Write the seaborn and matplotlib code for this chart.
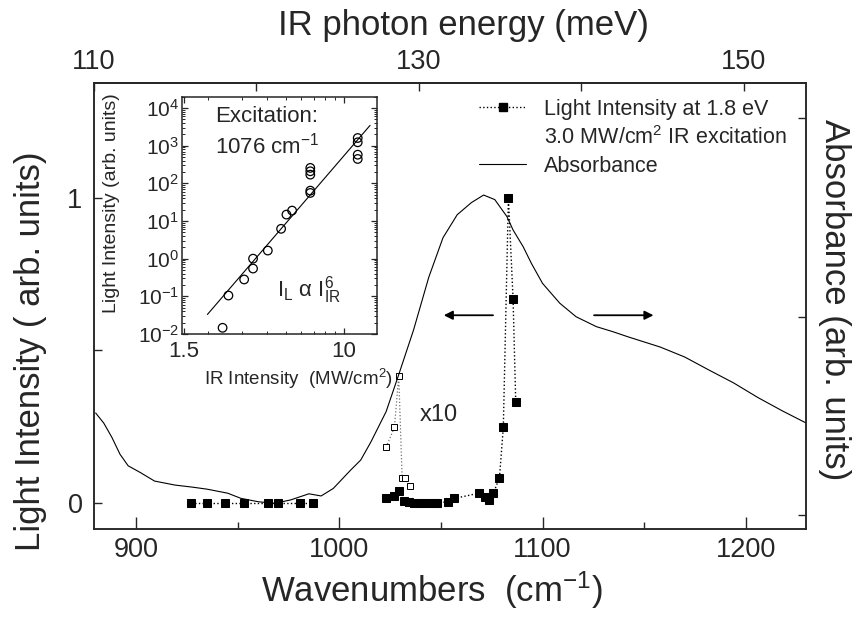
import numpy as np
import pandas as pd
import seaborn as sns
import matplotlib.pyplot as plt
from matplotlib.lines import Line2D
from matplotlib.ticker import FixedLocator, LogLocator, NullFormatter

# absorbance spectrum (right axis, arb. units)
abs_wn = [880, 884, 888, 892, 896, 902, 909, 919, 928, 935, 945, 951.5, 960, 968,
          976, 985, 991, 997, 1005.5, 1010.5, 1015.5, 1023, 1029, 1036.5, 1044, 1051,
          1058, 1065, 1071, 1076.5, 1082.5, 1085.5, 1090.5, 1094.5, 1100, 1108.5,
          1116.5, 1126.5, 1134.5, 1142, 1158, 1170, 1182, 1194, 1206, 1218, 1229.5]
abs_val = [0.514, 0.463, 0.391, 0.306, 0.248, 0.214, 0.171, 0.151, 0.140, 0.130, 0.110,
           0.084, 0.067, 0.059, 0.076, 0.107, 0.096, 0.134, 0.226, 0.277, 0.368, 0.521,
           0.701, 0.932, 1.198, 1.397, 1.513, 1.574, 1.612, 1.589, 1.503, 1.436, 1.351,
           1.268, 1.167, 1.067, 0.999, 0.949, 0.924, 0.898, 0.846, 0.796, 0.730, 0.666,
           0.592, 0.525, 0.465]

# light intensity at 1.8 eV (left axis)
low_wn = [926.7, 934.8, 943.9, 952.9, 964.7, 969.6, 980.7, 986.8]
low_val = [0.0, 0.0, 0.0, 0.0, 0.0, 0.0, 0.0, 0.0]
high_wn = [1022.7, 1026.8, 1029.2, 1031.7, 1034.2, 1036.6, 1039.1, 1041.5, 1044.0, 1046.4,
           1048.1, 1053.3, 1056.5, 1068.5, 1071.7, 1073.4, 1075.8, 1078.8, 1080.7, 1083.2,
           1085.5, 1086.8]
high_val = [0.015, 0.024, 0.039, 0.007, 0.004, 0.001, -0.001, -0.001, -0.001, 0.0,
            0.001, 0.004, 0.015, 0.032, 0.021, 0.01, 0.032, 0.083, 0.249, 1.0, 0.668, 0.332]
# x10 magnified points
x10_wn = [1023.0, 1027.1, 1029.2, 1030.9, 1032.5, 1034.6]
x10_val = [0.183, 0.248, 0.417, 0.081, 0.081, 0.057]

# inset: power dependence at 1076 cm-1
ir_int = [2.37, 2.54, 3.06, 3.40, 3.40, 4.05, 4.74, 5.05, 5.40, 6.70, 6.70, 6.70, 6.70, 6.70,
          11.75, 11.75, 11.75, 11.75]
light_int = [0.0146, 0.105, 0.28, 0.546, 1.0, 1.64, 6.2, 14.8, 18.9, 55.6, 64, 170, 209, 257,
             1600, 1230, 576, 444]
fit_ir = np.array([1.98, 13.6])
fit_pref = 5.47e-4
fit_exp = 6

sns.set_style('ticks', {'xtick.direction': 'in', 'ytick.direction': 'in'})
plt.rcParams['font.family'] = ['Liberation Sans', 'DejaVu Sans']
plt.rcParams['mathtext.fontset'] = 'custom'
plt.rcParams['mathtext.rm'] = 'Liberation Sans'
plt.rcParams['mathtext.it'] = 'Liberation Sans:italic'
plt.rcParams['mathtext.bf'] = 'Liberation Sans:bold'
plt.rcParams['axes.linewidth'] = 1.1

fig = plt.figure(figsize=(8.55, 6.17), dpi=100)
ax = fig.add_axes([0.1095, 0.1426, 0.8327, 0.7221])
axr = ax.twinx()

sns.lineplot(x=abs_wn, y=abs_val, ax=axr, color='k', lw=0.8, estimator=None)
sns.lineplot(x=low_wn, y=low_val, ax=ax, color='k', lw=1, ls=':', marker='s', ms=6,
             mec='k', estimator=None)
sns.lineplot(x=high_wn, y=high_val, ax=ax, color='k', lw=1, ls=':', marker='s', ms=6,
             mec='k', estimator=None)
sns.lineplot(x=x10_wn, y=x10_val, ax=ax, color='0.45', lw=0.9, ls=':', marker='s', ms=4,
             mfc='white', mec='k', mew=0.7, estimator=None)

ax.annotate('', xy=(1050, 0.615), xytext=(1077, 0.615),
            arrowprops=dict(arrowstyle='-|>', color='k', lw=1.3, mutation_scale=13))
ax.annotate('', xy=(1156, 0.615), xytext=(1124, 0.615),
            arrowprops=dict(arrowstyle='-|>', color='k', lw=1.3, mutation_scale=13))
ax.text(1049, 0.29, 'x10', ha='center', va='center', fontsize=17)

ax.set_xlim(879, 1229.5)
ax.set_ylim(-0.085, 1.374)
axr.set_ylim(-0.0705, 2.174)

ax.xaxis.set_major_locator(FixedLocator([900, 1000, 1100, 1200]))
ax.xaxis.set_minor_locator(FixedLocator([950, 1050, 1150]))
ax.set_yticks([0, 1])
ax.set_yticklabels(['0', '1'])
ax.yaxis.set_minor_locator(FixedLocator([0.5]))
ax.tick_params(which='both', direction='in', labelsize=19.5, top=False, right=False)
ax.tick_params(axis='x', which='major', length=9, width=1, pad=6)
ax.tick_params(axis='x', which='minor', length=5, width=1)
ax.tick_params(axis='y', which='both', length=6, width=1, pad=8)
axr.set_yticks([0, 1, 2])
axr.set_yticklabels([])
axr.tick_params(axis='y', direction='in', length=6, width=1)

top = ax.secondary_xaxis('top', functions=(lambda w: 110 + (w - 879.0) / 8.0,
                                           lambda e: 879.0 + (e - 110) * 8.0))
top.xaxis.set_major_locator(FixedLocator([110, 130, 150]))
top.xaxis.set_minor_locator(FixedLocator([120, 140]))
top.tick_params(which='both', direction='in', length=6, width=1, labelsize=19.5, pad=6)
top.set_xlabel('IR photon energy (meV)', fontsize=25, labelpad=10)
top.xaxis.label.set_x(0.52)

ax.set_xlabel('Wavenumbers  (cm$^{-1}$)', fontsize=25)
ax.xaxis.set_label_coords(0.475, -0.137)
ax.xaxis.label.set_va('center')
ax.set_ylabel('Light Intensity ( arb. units)', fontsize=25)
ax.yaxis.set_label_coords(-0.089, 0.40)
ax.yaxis.label.set_va('center')
axr.set_ylabel('Absorbance (arb. units)', fontsize=25, rotation=270)
axr.yaxis.set_label_coords(1.041, 0.514)
axr.yaxis.label.set_va('center')

h1 = Line2D([], [], color='k', ls=':', lw=1, marker='s', ms=6)
h2 = Line2D([], [], color='none')
h3 = Line2D([], [], color='k', lw=0.8)
ax.legend([h1, h2, h3],
          ['Light Intensity at 1.8 eV', '3.0 MW/cm$^2$ IR excitation', 'Absorbance'],
          loc='upper right', bbox_to_anchor=(0.985, 0.985), frameon=False, fontsize=15.5,
          handlelength=2.2, handletextpad=0.8, labelspacing=0.3, borderaxespad=0)

# inset
axi = fig.add_axes([0.2125, 0.4587, 0.228, 0.3846])
axi.set_xscale('log')
axi.set_yscale('log')
sns.scatterplot(x=ir_int, y=light_int, ax=axi, marker='o', s=38, facecolors='none',
                edgecolors='k', linewidth=0.9)
sns.lineplot(x=fit_ir, y=fit_pref * fit_ir ** fit_exp, ax=axi, color='k', lw=0.8)
axi.set_xlim(1.46, 14.7)
axi.set_ylim(0.01, 2.0e4)
axi.xaxis.set_major_locator(FixedLocator([1.5, 10]))
axi.set_xticklabels(['1.5', '10'])
axi.xaxis.set_minor_locator(LogLocator(base=10, subs=np.arange(2, 10)))
axi.xaxis.set_minor_formatter(NullFormatter())
axi.yaxis.set_major_locator(LogLocator(base=10, numticks=10))
axi.yaxis.set_minor_locator(LogLocator(base=10, subs=np.arange(2, 10), numticks=10))
axi.yaxis.set_minor_formatter(NullFormatter())
axi.tick_params(which='both', direction='in', top=True, right=True)
axi.tick_params(axis='y', pad=2, labelsize=15)
axi.tick_params(axis='x', pad=5, labelsize=16)
axi.tick_params(which='major', length=4, width=0.9)
axi.tick_params(which='minor', length=2, width=0.7)
axi.set_xlabel('IR Intensity  (MW/cm$^2$)', fontsize=13.5)
axi.xaxis.set_label_coords(0.60, -0.19)
axi.xaxis.label.set_va('center')
axi.set_ylabel('Light Intensity (arb. units)', fontsize=14)
axi.yaxis.set_label_coords(-0.36, 0.55)
axi.yaxis.label.set_va('center')
axi.text(0.171, 0.916, 'Excitation:', transform=axi.transAxes, fontsize=16, va='center')
axi.text(0.171, 0.796, '1076 cm$^{-1}$', transform=axi.transAxes, fontsize=16, va='center')
axi.text(0.49, 0.185, 'I$_{\\mathrm{L}}$ α I$_{\\mathrm{IR}}^{6}$', transform=axi.transAxes,
         fontsize=16, va='center')

fig.savefig('out.png', dpi=100)
